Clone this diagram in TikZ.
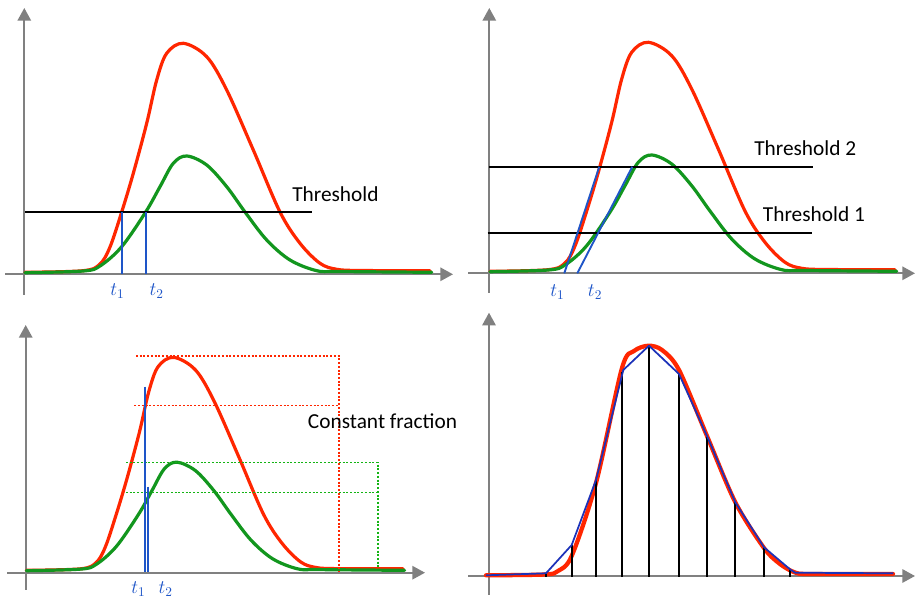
\documentclass[tikz,border=0pt]{standalone}
\usepackage{fontspec}
\setmainfont{Carlito}
\usetikzlibrary{arrows.meta}
\definecolor{pred}{RGB}{255,38,0}
\definecolor{pgreen}{RGB}{18,150,30}
\definecolor{pblue}{RGB}{30,85,200}
\definecolor{pbluefour}{RGB}{28,50,185}
\definecolor{axgray}{RGB}{128,128,128}
\definecolor{dgreen}{RGB}{20,180,20}
\tikzset{
  axisline/.style={draw=axgray, line width=1.5pt, -{Triangle[length=9.5pt,width=10pt]}},
  redc/.style={draw=pred, line width=2.4pt, line join=round, line cap=round},
  greenc/.style={draw=pgreen, line width=2.4pt, line join=round, line cap=round},
  thrline/.style={draw=black, line width=1.4pt},
  tline/.style={draw=pblue, line width=1.4pt},
  reddot/.style={draw=pred, line width=1.3pt, dash pattern=on 1.5pt off 1.3pt},
  greendot/.style={draw=dgreen, line width=1.3pt, dash pattern=on 1.5pt off 1.3pt},
  lbl/.style={inner sep=0pt, font=\fontsize{16}{19}\selectfont},
  tlbl/.style={inner sep=0pt, text=pblue, font=\fontsize{14.4}{17}\selectfont},
  sample/.style={draw=black, line width=1.4pt},
  redpulse/.pic={
    \draw[redc] plot[smooth, tension=0.55] coordinates {(25,272.3) (83.3,270.7) (100,264) (110,247) (121.7,212) (133.3,173.3) (146.7,123.3) (156.7,80) (166.7,53.3) (183.3,43.3) (206.7,56.7) (226.7,90) (253.3,150) (280,212) (300,243.3) (320,263.3) (336.7,269.3) (360,270.5) (430,270.7)};
  },
  greenpulse/.pic={
    \draw[greenc] plot[smooth, tension=0.55] coordinates {(25,272.7) (83.3,271) (100,266) (121.7,246.7) (145.7,212) (160,186.7) (173.3,163.3) (186.7,156) (206.7,165) (226.7,186.7) (245,212) (266.7,240) (290,260) (316.7,270.7) (340,271.5) (431.7,272.3)};
  }
}
\begin{document}
\begin{tikzpicture}[x=0.75pt, y=-0.75pt]
\fill[white] (0,0) rectangle (915,598);
\useasboundingbox (0,0) rectangle (915,598);

% ---------------- Panel 1 ----------------
\draw[axisline] (24.3,295) -- (24.3,8);
\draw[axisline] (5,274.3) -- (453,274.3);
\pic {redpulse};
\pic {greenpulse};
\draw[thrline] (25,212) -- (311.7,212);
\node[lbl, anchor=base west] (thr) at (292,201.7) {Threshold};
\draw[tline] (121.7,212) -- (121.7,274.3);
\draw[tline] (145.7,212) -- (145.7,274.3);
\node[tlbl, anchor=base west] (ta1) at (110,296) {$t_1$};
\node[tlbl, anchor=base west] (ta2) at (149.3,296) {$t_2$};

% ---------------- Panel 2 ----------------
\draw[axisline] (489.3,293) -- (489.3,8);
\draw[axisline] (468,273.3) -- (915,273.3);
\begin{scope}[shift={(465,-1)}]
  \pic {redpulse};
  \pic {greenpulse};
\end{scope}
\draw[thrline] (489,166.7) -- (813.3,166.7);
\draw[thrline] (487.7,233.3) -- (812.3,233.3);
\node[lbl, anchor=base west] (thrtwo) at (754,155.7) {Threshold 2};
\node[lbl, anchor=base west] (throne) at (762.7,221.7) {Threshold 1};
\draw[tline] (564.3,273.3) -- (599.3,166.7);
\draw[tline] (577.3,273.3) -- (632.3,166.7);
\node[tlbl, anchor=base west] (tb1) at (550,297) {$t_1$};
\node[tlbl, anchor=base west] (tb2) at (587.7,297) {$t_2$};

% ---------------- Panel 3 ----------------
\draw[axisline] (25.7,590) -- (25.7,325);
\draw[axisline] (7.3,572.7) -- (425,572.7);
\begin{scope}[shift={(25.7,570.7)}, scale=0.93, shift={(-24.3,-272.7)}]
  \pic[transform shape] {redpulse};
  \pic[transform shape] {greenpulse};
\end{scope}
\draw[reddot] (136,356) -- (339,356) -- (339,571.7);
\draw[reddot] (134.3,405.5) -- (338.3,405.5);
\draw[greendot] (126,462.5) -- (377.7,462.5) -- (377.7,567.7);
\draw[greendot] (126,492.5) -- (377.7,492.5);
\draw[tline] (145,386.7) -- (145,572);
\draw[tline] (148.3,486.7) -- (148.3,572);
\node[lbl, anchor=base west] (cf) at (307.7,428.3) {Constant fraction};
\node[tlbl, anchor=base west] (tc1) at (131,593.3) {$t_1$};
\node[tlbl, anchor=base west] (tc2) at (158.3,593.3) {$t_2$};

% ---------------- Panel 4 ----------------
\draw[axisline] (489,595) -- (489,312.7);
\draw[axisline] (468.3,576) -- (915,576);
\draw[draw=pred, line width=3.2pt, line join=round, line cap=round] plot[smooth, tension=0.5] coordinates {(486,575.3) (545,574.5) (558,571) (571.7,556) (596,483) (622,368) (634,351) (648.3,345.7) (662,350) (679,370) (707.3,436.7) (735.3,502.3) (764,548) (780,564) (795,572.5) (810,574) (893,574)};
\foreach \x/\y in {546/573.3, 571.7/545, 596/480, 622.3/372, 649/345.7, 679/374, 707.3/436.7, 735.3/502.3, 764/547.3, 790/569.3}
  \draw[sample] (\x,\y) -- (\x,576.7);
\draw[draw=pbluefour, line width=1.3pt, line join=round] (486,575.3) -- (546,573.3) -- (571.7,545) -- (596,480) -- (623.3,370) -- (649,345.7) -- (679,374) -- (707.3,436.7) -- (735.3,502.3) -- (764,547.3) -- (790,569.3) -- (795,572.7) -- (893.3,573.3);
\end{tikzpicture}
\end{document}
